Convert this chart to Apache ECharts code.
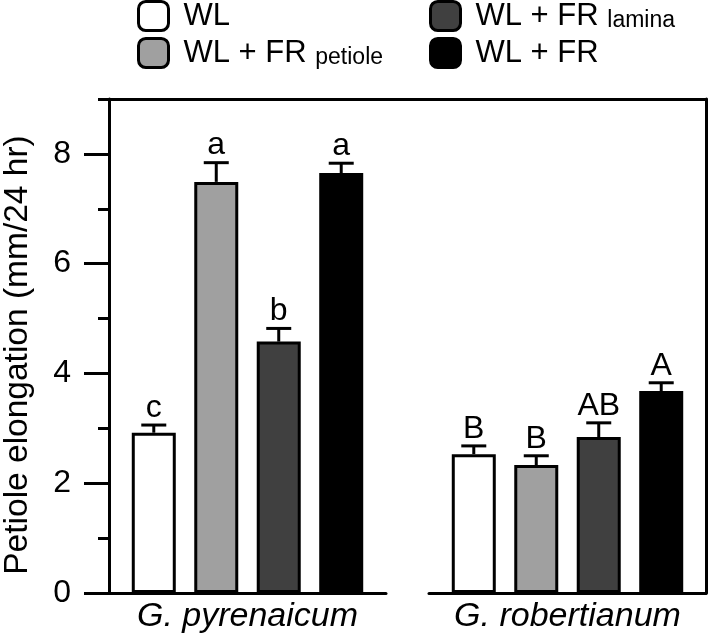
<!DOCTYPE html>
<html><head><meta charset="utf-8">
<script src="https://cdn.jsdelivr.net/npm/echarts@6/dist/echarts.min.js"></script>
<style>html,body{margin:0;padding:0;background:#fff}#c{width:709px;height:639px}</style>
</head><body><div id="c"></div>
<script>
const species = ['G. pyrenaicum', 'G. robertianum'];
const treatments = ['WL', 'WL + FR petiole', 'WL + FR lamina', 'WL + FR'];
const pyrenaicumValues = [2.92, 7.49, 4.58, 7.65];
const pyrenaicumErrors = [0.14, 0.35, 0.24, 0.18];
const pyrenaicumLetters = ['c', 'a', 'b', 'a'];
const robertianumValues = [2.53, 2.33, 2.84, 3.68];
const robertianumErrors = [0.15, 0.17, 0.26, 0.15];
const robertianumLetters = ['B', 'B', 'AB', 'A'];
const yTickLabels = [0, 2, 4, 6, 8];
const yMinorTicks = [1, 3, 5, 7, 9];
const yMin = 0, yMax = 9;

const colors = ['#ffffff', '#a0a0a0', '#404040', '#000000'];
const FONT = '"Liberation Sans", Arial, Helvetica, sans-serif';
const BAR_W = 44, GAP = 0.42;

const chart = echarts.init(document.getElementById('c'));

function errorSeries(xi, yi, values, errors, letters) {
  return {
    type: 'custom', xAxisIndex: xi, yAxisIndex: yi, z: 5,
    encode: { x: 0, y: 1 },
    data: values.map((v, i) => [0, v, errors[i]]),
    renderItem: function (params, api) {
      const i = params.dataIndex;
      const val = api.value(1), err = api.value(2);
      const base = api.coord([0, val]);
      const top = api.coord([0, val + err]);
      const pitch = BAR_W * (1 + GAP);
      const x = base[0] + (i - 1.5) * pitch;
      return {
        type: 'group', children: [
          { type: 'line', shape: { x1: x, y1: base[1], x2: x, y2: top[1] }, style: { stroke: '#000', lineWidth: 3 } },
          { type: 'line', shape: { x1: x - 12.5, y1: top[1], x2: x + 12.5, y2: top[1] }, style: { stroke: '#000', lineWidth: 3 } },
          { type: 'text', x: x, y: top[1] - 1, style: { text: letters[i], fill: '#000', fontSize: 32, fontFamily: FONT, align: 'center', verticalAlign: 'bottom' } }
        ]
      };
    }
  };
}

const series = [];
treatments.forEach((t, i) => {
  const common = { type: 'bar', name: t, barWidth: BAR_W, barGap: (GAP * 100) + '%',
    itemStyle: { color: colors[i], borderColor: '#000', borderWidth: 3 }, silent: true };
  series.push(Object.assign({}, common, { xAxisIndex: 0, yAxisIndex: 0, data: [pyrenaicumValues[i]] }));
  series.push(Object.assign({}, common, { xAxisIndex: 1, yAxisIndex: 2, data: [robertianumValues[i]] }));
});
series.push(errorSeries(0, 0, pyrenaicumValues, pyrenaicumErrors, pyrenaicumLetters));
series.push(errorSeries(1, 2, robertianumValues, robertianumErrors, robertianumLetters));

function legendCfg(left, data) {
  return {
    left: left, data: data,
    orient: 'vertical', top: -5, itemWidth: 30, itemHeight: 29, itemGap: 5,
    icon: 'roundRect', selectedMode: false,
    itemStyle: { borderColor: '#000', borderWidth: 3 },
    formatter: function (name) {
      const m = name.match(/^(WL \+ FR) (petiole|lamina)$/);
      return m ? '{m|' + m[1] + ' }{s|' + m[2] + '}' : '{m|' + name + '}';
    },
    textStyle: {
      padding: [0, 0, 0, 10],
      rich: {
        m: { fontSize: 31, fontFamily: FONT, color: '#000', lineHeight: 32 },
        s: { fontSize: 23, fontFamily: FONT, color: '#000', lineHeight: 12, verticalAlign: 'bottom' }
      }
    }
  };
}

function line() { return { color: '#000', width: 3 }; }

const option = {
  backgroundColor: '#fff',
  animation: false,
  legend: [
    legendCfg(132, [treatments[0], treatments[1]]),
    legendCfg(424, [treatments[2], treatments[3]])
  ],
  grid: [
    { left: 108, right: 323, top: 99, bottom: 46 },
    { left: 429, right: 3, top: 99, bottom: 46 },
    { left: 108, right: 3, top: 99, bottom: 46 }
  ],
  xAxis: [
    { type: 'category', gridIndex: 0, data: [species[0]], position: 'bottom',
      axisLine: { show: true, onZero: false, lineStyle: line() }, axisTick: { show: false },
      axisLabel: { fontSize: 34, fontStyle: 'italic', fontFamily: FONT, color: '#000', margin: 7 } },
    { type: 'category', gridIndex: 1, data: [species[1]], position: 'bottom',
      axisLine: { show: true, onZero: false, lineStyle: line() }, axisTick: { show: false },
      axisLabel: { fontSize: 34, fontStyle: 'italic', fontFamily: FONT, color: '#000', margin: 7 } },
    { type: 'category', gridIndex: 2, position: 'top', data: [''],
      axisLine: { show: true, onZero: false, lineStyle: line() }, axisTick: { show: false }, axisLabel: { show: false } }
  ],
  yAxis: [
    { type: 'value', gridIndex: 0, min: yMin, max: yMax, position: 'left',
      name: 'Petiole elongation (mm/24 hr)', nameLocation: 'middle', nameGap: 74,
      nameTextStyle: { fontSize: 33.5, fontFamily: FONT, color: '#000', padding: [0, 18, 0, 0] },
      axisLine: { show: true, onZero: false, lineStyle: line() },
      axisTick: { show: true, length: 25, lineStyle: line(), customValues: yTickLabels },
      axisLabel: { fontSize: 32, fontFamily: FONT, color: '#000', margin: 38, customValues: yTickLabels },
      splitLine: { show: false } },
    { type: 'value', gridIndex: 0, min: yMin, max: yMax, position: 'left',
      axisLine: { show: false },
      axisTick: { show: true, length: 11, lineStyle: line(), customValues: yMinorTicks },
      axisLabel: { show: false }, splitLine: { show: false } },
    { type: 'value', gridIndex: 1, min: yMin, max: yMax, position: 'right',
      axisLine: { show: true, onZero: false, lineStyle: line() }, axisTick: { show: false },
      axisLabel: { show: false }, splitLine: { show: false } },
    { type: 'value', gridIndex: 2, min: yMin, max: yMax, show: false }
  ],
  series: series
};
chart.setOption(option);
</script>
</body></html>
